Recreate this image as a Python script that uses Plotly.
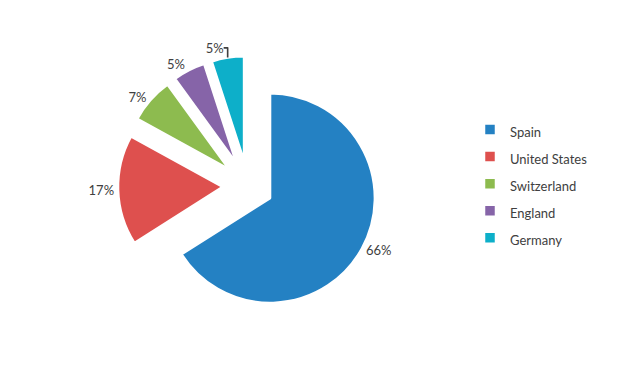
import plotly.graph_objects as go

categories = ["Spain", "United States", "Switzerland", "England", "Germany"]
values = [66, 17, 7, 5, 5]
colors = ["#2481C3", "#DE504E", "#8DBB4F", "#8664A8", "#0DAFC9"]

W, H = 644, 388
# legend labels with smaller visible font but larger line spacing
legend_labels = [f"<span style='font-size:13px'>{c}</span>" for c in categories]

fig = go.Figure(go.Pie(
    labels=legend_labels,
    values=values,
    sort=False,
    direction="clockwise",
    rotation=0,
    pull=[0.24] * len(values),
    automargin=False,
    marker=dict(colors=colors, line=dict(color="white", width=2.5)),
    textposition="outside",
    texttemplate="%{percent:.0%}",
    textfont=dict(family="Lato, Open Sans, sans-serif", size=13, color="#404040"),
    domain=dict(x=[110 / W, 370 / W], y=[1 - 308 / H, 1 - 48 / H]),
    hoverinfo="label+percent",
))

fig.update_layout(
    width=W, height=H,
    margin=dict(l=0, r=0, t=0, b=0, autoexpand=False),
    paper_bgcolor="white",
    plot_bgcolor="white",
    showlegend=True,
    legend=dict(
        x=462 / W, xanchor="left",
        y=1 - 103 / H, yanchor="top",
        font=dict(family="Lato, Open Sans, sans-serif", size=18.5, color="#404040"),
        bgcolor="rgba(0,0,0,0)",
    ),
)

fig.write_html("out.html")
